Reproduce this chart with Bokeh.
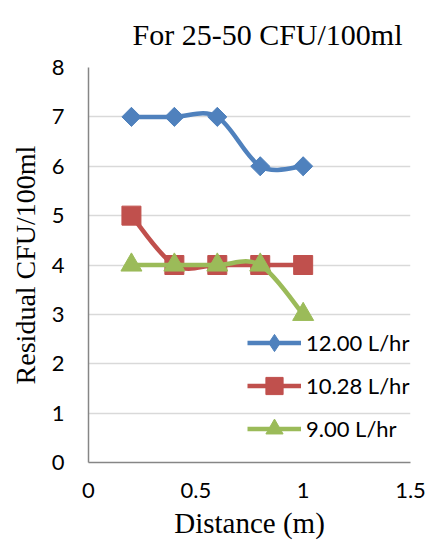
import math
from bokeh.plotting import figure
from bokeh.models import Range1d, FixedTicker, Legend, LegendItem, ColumnDataSource
from bokeh.embed import file_html
from bokeh.resources import INLINE

# ---- data ----
distance = [0.2, 0.4, 0.6, 0.8, 1.0]
flow_12_00 = [7, 7, 7, 6, 6]
flow_10_28 = [5, 4, 4, 4, 4]
flow_9_00 = [4, 4, 4, 4, 3]
series_labels = ["12.00 L/hr", "10.28 L/hr", "9.00 L/hr"]
x_ticks = [0, 0.5, 1, 1.5]
y_ticks = [0, 1, 2, 3, 4, 5, 6, 7, 8]

title_text = "For 25-50 CFU/100ml"
x_label = "Distance (m)"
y_label = "Residual CFU/100ml"

colors = ["#4F81BD", "#C0504D", "#9BBB59"]
SERIF = "Liberation Serif"
SANS = "Lato"


def smooth_segments(xs, ys):
    """Bezier control points for a smoothed line through the data points."""
    n = len(xs)
    d = dict(x0=[], y0=[], x1=[], y1=[], cx0=[], cy0=[], cx1=[], cy1=[])
    for i in range(n - 1):
        ip = max(i - 1, 0)
        inn = min(i + 2, n - 1)
        d["x0"].append(xs[i]); d["y0"].append(ys[i])
        d["x1"].append(xs[i + 1]); d["y1"].append(ys[i + 1])
        d["cx0"].append(xs[i] + (xs[i + 1] - xs[ip]) / 6)
        d["cy0"].append(ys[i] + (ys[i + 1] - ys[ip]) / 6)
        d["cx1"].append(xs[i + 1] - (xs[inn] - xs[i]) / 6)
        d["cy1"].append(ys[i + 1] - (ys[inn] - ys[i]) / 6)
    return ColumnDataSource(d)


p = figure(width=433, height=559, x_range=Range1d(0, 1.5), y_range=Range1d(0, 8),
           output_backend="svg", toolbar_location=None,
           min_border_left=88, min_border_right=23, min_border_top=67, min_border_bottom=97)

p.outline_line_color = None
p.background_fill_color = "white"
p.border_fill_color = "white"

p.title.text = title_text
p.title.text_font = SERIF
p.title.text_font_size = "30px"
p.title.text_font_style = "normal"
p.title.text_color = "black"
p.title.align = "left"
p.title.vertical_align = "top"
p.title.offset = 44
p.title.standoff = 30

p.xgrid.visible = False
p.ygrid.grid_line_color = "#d9d9d9"
p.ygrid.grid_line_width = 1.5

xax = p.below[0]
yax = p.left[0]
xax.ticker = FixedTicker(ticks=x_ticks)
yax.ticker = FixedTicker(ticks=y_ticks)
for ax in (xax, yax):
    ax.axis_line_color = "#868686"
    ax.axis_line_width = 1.5
    ax.major_tick_line_color = None
    ax.minor_tick_line_color = None
    ax.major_tick_out = 0
    ax.major_tick_in = 0
    ax.minor_tick_out = 0
    ax.minor_tick_in = 0
    ax.major_label_text_font = SANS
    ax.major_label_text_font_size = "22px"
    ax.major_label_text_color = "black"
    ax.axis_label_text_font = SERIF
    ax.axis_label_text_font_style = "normal"
    ax.axis_label_text_color = "black"
xax.axis_label = x_label
yax.axis_label = y_label
xax.axis_label_text_font_size = "29px"
yax.axis_label_text_font_size = "28px"
xax.major_label_standoff = 20
yax.major_label_standoff = 24
xax.axis_label_standoff = 6
yax.axis_label_standoff = 8

series = [flow_12_00, flow_10_28, flow_9_00]
markers = [dict(marker="square", size=13.5, angle=math.pi / 4),
           dict(marker="square", size=19, angle=0),
           dict(marker="triangle", size=21, angle=0)]

items = []
for k, (vals, col, mk, lab) in enumerate(zip(series, colors, markers, series_labels)):
    src = smooth_segments(distance, vals)
    b = p.bezier(x0="x0", y0="y0", x1="x1", y1="y1", cx0="cx0", cy0="cy0",
                 cx1="cx1", cy1="cy1", source=src, line_color=col, line_width=4.5)
    if k == 0:
        # diamond drawn beneath the rotated square: gives the legend its diamond shape
        leg = p.scatter(distance, vals, marker="diamond", size=18, fill_color=col, line_color=col)
    s = p.scatter(distance, vals, marker=mk["marker"], size=mk["size"], angle=mk["angle"],
                  fill_color=col, line_color=col)
    if k != 0:
        leg = s
    items.append(LegendItem(label=lab, renderers=[b, leg]))

legend = Legend(items=items, location=(159, 12), border_line_color=None,
                background_fill_alpha=0, padding=0, margin=0, spacing=0,
                glyph_width=54, glyph_height=43, label_standoff=5,
                label_text_font=SANS, label_text_font_size="22px", label_text_color="black")
p.add_layout(legend)

open("out.html", "w").write(file_html(p, INLINE))
